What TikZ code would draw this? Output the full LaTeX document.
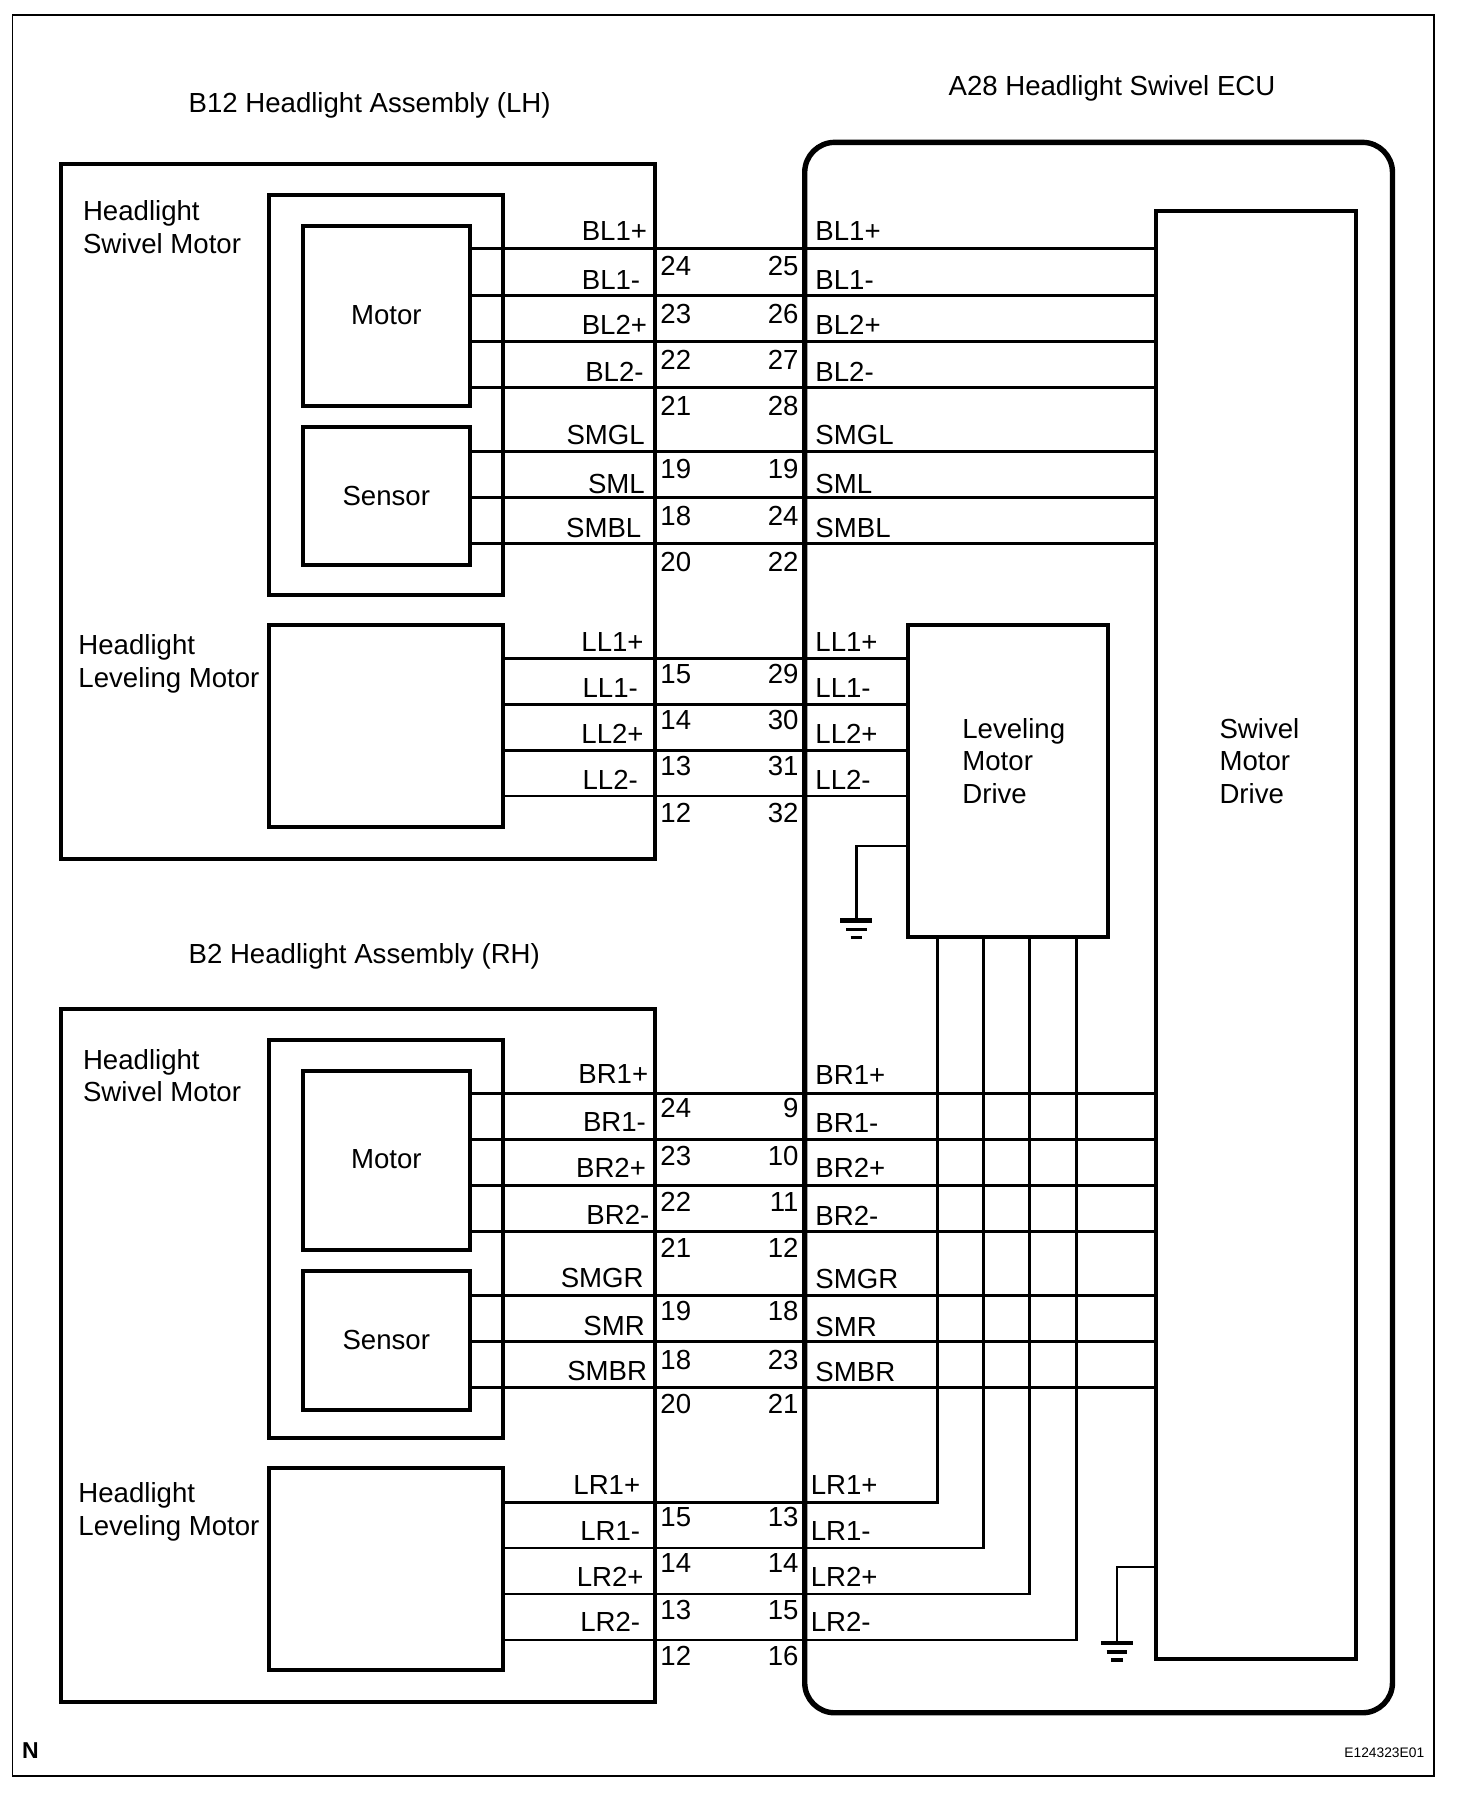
\documentclass[tikz,border=0pt]{standalone}
\usepackage{fontspec}
\setmainfont{Liberation Sans}
\tikzset{
  sized/.style 2 args={minimum width=#1*0.574pt,minimum height=#2*0.574pt},
  box node/.style={rectangle,draw,line width=2pt,outer sep=0pt,inner sep=0pt},
  wire/.style={line width=1.35pt},
  east label/.style={anchor=mid east,inner sep=0pt,yshift=-2.3pt},
  west label/.style={anchor=mid west,inner sep=0pt,yshift=-2.3pt},
  body label/.style={anchor=west,inner sep=0pt,align=left},
}
\begin{document}
\begin{tikzpicture}[x=0.574pt,y=-0.574pt,font=\fontsize{13.8}{16.4}\selectfont]
\useasboundingbox (0,0) rectangle (1282.2,1568);
% frame and boxes
\node[box node,sized={1238}{1534},line width=0.8pt] (frame) at (630,780) {};
\node[box node,sized={518}{605}] (asmL) at (312,445.5) {};
\node[box node,sized={204}{348}] (swivL) at (336,344) {};
\node[box node,sized={145}{157}] (motorL) at (336.5,275.5) {\raisebox{1.1pt}{Motor}};
\node[box node,sized={145}{120}] (sensorL) at (336.5,432) {\raisebox{.5pt}{Sensor}};
\node[box node,sized={204}{176}] (levelL) at (336,632) {};
\node[box node,sized={518}{604}] (asmR) at (312,1181) {};
\node[box node,sized={204}{347}] (swivR) at (336,1079.5) {};
\node[box node,sized={145}{156}] (motorR) at (336.5,1011) {\raisebox{1.1pt}{Motor}};
\node[box node,sized={145}{121}] (sensorR) at (336.5,1167.5) {Sensor};
\node[box node,sized={204}{176}] (levelR) at (336,1367) {};
\node[box node,sized={512}{1368},line width=2.7pt,rounded corners=15pt] (ecu) at (957,808) {};
\node[box node,sized={174}{1261}] (swivDrive) at (1094,814.5) {};
\node[box node,sized={174}{272}] (levelDrive) at (878,680) {};
% titles
\node[body label] (titleL) at (164,92) {B12 Headlight Assembly (LH)};
\node[body label] (titleE) at (826,77) {A28 Headlight Swivel ECU};
\node[body label] (titleR) at (164,833) {B2 Headlight Assembly (RH)};
\node[body label] (swivTextL) at (72,198) {Headlight\\Swivel Motor};
\node[body label] (levelTextL) at (68,578) {Headlight\\Leveling Motor};
\node[body label] (swivTextR) at (72,937) {Headlight\\Swivel Motor};
\node[body label] (levelTextR) at (68,1317) {Headlight\\Leveling Motor};
\node[body label] (levelDriveText) at (838,663) {Leveling\\Motor\\Drive};
\node[body label] (swivDriveText) at (1062,663) {Swivel\\Motor\\Drive};
\node[body label,font=\fontsize{11.5}{14}\selectfont\bfseries] (mark) at (19,1525) {N};
\node[anchor=east,inner sep=0pt,font=\fontsize{6.9}{8}\selectfont] (code) at (1241,1527) {E124323E01};
% wires
\begin{scope}[wire,yshift=-0.3pt]
\draw (motorL.east |- 0,216) -- (swivDrive.west |- 0,216);
\draw (motorL.east |- 0,257) -- (swivDrive.west |- 0,257);
\draw (motorL.east |- 0,297) -- (swivDrive.west |- 0,297);
\draw (motorL.east |- 0,337) -- (swivDrive.west |- 0,337);
\draw (sensorL.east |- 0,393) -- (swivDrive.west |- 0,393);
\draw (sensorL.east |- 0,433) -- (swivDrive.west |- 0,433);
\draw (sensorL.east |- 0,473) -- (swivDrive.west |- 0,473);
\draw (levelL.east |- 0,573) -- (levelDrive.west |- 0,573);
\draw (levelL.east |- 0,613) -- (levelDrive.west |- 0,613);
\draw (levelL.east |- 0,653) -- (levelDrive.west |- 0,653);
\draw (levelL.east |- 0,693) -- (levelDrive.west |- 0,693);
\draw (motorR.east |- 0,952) -- (swivDrive.west |- 0,952);
\draw (motorR.east |- 0,992) -- (swivDrive.west |- 0,992);
\draw (motorR.east |- 0,1032) -- (swivDrive.west |- 0,1032);
\draw (motorR.east |- 0,1072) -- (swivDrive.west |- 0,1072);
\draw (sensorR.east |- 0,1128) -- (swivDrive.west |- 0,1128);
\draw (sensorR.east |- 0,1168) -- (swivDrive.west |- 0,1168);
\draw (sensorR.east |- 0,1208) -- (swivDrive.west |- 0,1208);
\draw (levelR.east |- 0,1308) -| (816.7,0 |- levelDrive.south);
\draw (levelR.east |- 0,1348) -| (856.7,0 |- levelDrive.south);
\draw (levelR.east |- 0,1388) -| (896.7,0 |- levelDrive.south);
\draw (levelR.east |- 0,1428) -| (937.7,0 |- levelDrive.south);
\end{scope}
% grounds
\coordinate (gndL) at (746,802);
\coordinate (gndR) at (973,1431);
\draw[wire] (levelDrive.west |- 0,737) -| (gndL);
\draw[wire] (swivDrive.west |- 0,1365) -| (gndR);
\draw[line width=2.2pt] (732,802) -- (760,802);
\draw[line width=1.6pt] (737,810) -- (755,810);
\draw[line width=1.6pt] (741,817) -- (751,817);
\draw[line width=2.2pt] (959,1431) -- (987,1431);
\draw[line width=1.6pt] (964,1439) -- (982,1439);
\draw[line width=1.6pt] (968,1446) -- (978,1446);
% upper left labels
\node[east label] (a1) at (564,201) {BL1+};
\node[east label] (a2) at (558,244) {BL1-};
\node[east label] (a3) at (564,283) {BL2+};
\node[east label] (a4) at (561,324) {BL2-};
\node[east label] (a5) at (562,379) {SMGL};
\node[east label] (a6) at (562,421) {SML};
\node[east label] (a7) at (559,460) {SMBL};
\node[east label] (a8) at (561,559) {LL1+};
\node[east label] (a9) at (556,599) {LL1-};
\node[east label] (a10) at (561,639) {LL2+};
\node[east label] (a11) at (556,679) {LL2-};
% upper left pins
\node[west label] (b1) at (575,231) {24};
\node[west label] (b2) at (575,273) {23};
\node[west label] (b3) at (575,313) {22};
\node[west label] (b4) at (575,353) {21};
\node[west label] (b5) at (575,408) {19};
\node[west label] (b6) at (575,449) {18};
\node[west label] (b7) at (575,489) {20};
\node[west label] (b8) at (575,587) {15};
\node[west label] (b9) at (575,627) {14};
\node[west label] (b10) at (575,667) {13};
\node[west label] (b11) at (575,708) {12};
% upper right pins
\node[east label] (c1) at (696,231) {25};
\node[east label] (c2) at (696,273) {26};
\node[east label] (c3) at (696,313) {27};
\node[east label] (c4) at (696,353) {28};
\node[east label] (c5) at (696,408) {19};
\node[east label] (c6) at (696,449) {24};
\node[east label] (c7) at (696,489) {22};
\node[east label] (c8) at (696,587) {29};
\node[east label] (c9) at (696,627) {30};
\node[east label] (c10) at (696,667) {31};
\node[east label] (c11) at (696,708) {32};
% upper right labels
\node[west label] (d1) at (710,201) {BL1+};
\node[west label] (d2) at (710,244) {BL1-};
\node[west label] (d3) at (710,283) {BL2+};
\node[west label] (d4) at (710,324) {BL2-};
\node[west label] (d5) at (710,379) {SMGL};
\node[west label] (d6) at (710,421) {SML};
\node[west label] (d7) at (710,460) {SMBL};
\node[west label] (d8) at (710,559) {LL1+};
\node[west label] (d9) at (710,599) {LL1-};
\node[west label] (d10) at (710,639) {LL2+};
\node[west label] (d11) at (710,679) {LL2-};
% lower left labels
\node[east label] (e1) at (565,935) {BR1+};
\node[east label] (e2) at (563,977) {BR1-};
\node[east label] (e3) at (563,1017) {BR2+};
\node[east label] (e4) at (566,1058) {BR2-};
\node[east label] (e5) at (561,1113) {SMGR};
\node[east label] (e6) at (562,1155) {SMR};
\node[east label] (e7) at (564,1194) {SMBR};
\node[east label] (e8) at (558,1293) {LR1+};
\node[east label] (e9) at (558,1333) {LR1-};
\node[east label] (e10) at (561,1373) {LR2+};
\node[east label] (e11) at (558,1413) {LR2-};
% lower left pins
\node[west label] (f1) at (575,965) {24};
\node[west label] (f2) at (575,1007) {23};
\node[west label] (f3) at (575,1047) {22};
\node[west label] (f4) at (575,1087) {21};
\node[west label] (f5) at (575,1142) {19};
\node[west label] (f6) at (575,1184) {18};
\node[west label] (f7) at (575,1223) {20};
\node[west label] (f8) at (575,1321) {15};
\node[west label] (f9) at (575,1361) {14};
\node[west label] (f10) at (575,1402) {13};
\node[west label] (f11) at (575,1442) {12};
% lower right pins
\node[east label] (g1) at (696,965) {9};
\node[east label] (g2) at (696,1007) {10};
\node[east label] (g3) at (696,1047) {11};
\node[east label] (g4) at (696,1087) {12};
\node[east label] (g5) at (696,1142) {18};
\node[east label] (g6) at (696,1184) {23};
\node[east label] (g7) at (696,1223) {21};
\node[east label] (g8) at (696,1321) {13};
\node[east label] (g9) at (696,1361) {14};
\node[east label] (g10) at (696,1402) {15};
\node[east label] (g11) at (696,1442) {16};
% lower right labels
\node[west label] (h1) at (710,936) {BR1+};
\node[west label] (h2) at (710,978) {BR1-};
\node[west label] (h3) at (710,1017) {BR2+};
\node[west label] (h4) at (710,1059) {BR2-};
\node[west label] (h5) at (710,1114) {SMGR};
\node[west label] (h6) at (710,1156) {SMR};
\node[west label] (h7) at (710,1195) {SMBR};
\node[west label] (h8) at (706,1293) {LR1+};
\node[west label] (h9) at (706,1333) {LR1-};
\node[west label] (h10) at (706,1373) {LR2+};
\node[west label] (h11) at (706,1413) {LR2-};
\end{tikzpicture}
\end{document}
